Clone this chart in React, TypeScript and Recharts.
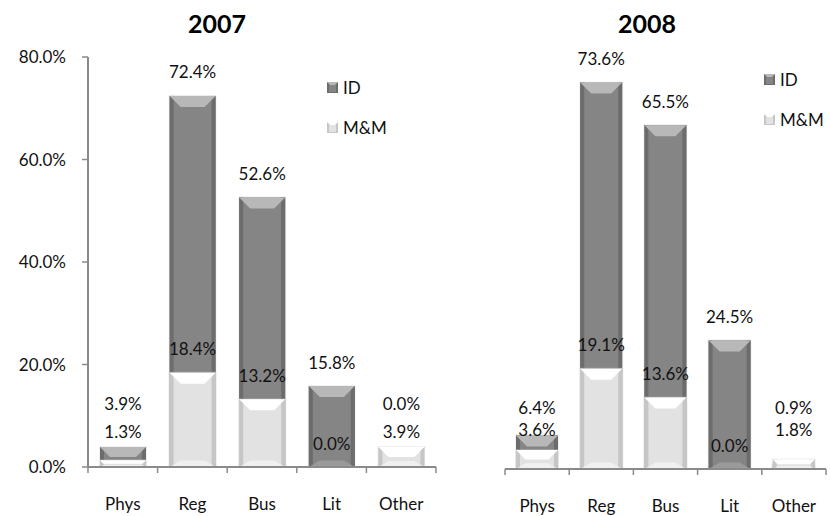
import React from 'react'
import { BarChart, Bar, XAxis, YAxis } from 'recharts'

const categories = ['Phys', 'Reg', 'Bus', 'Lit', 'Other']
const id2007 = [3.9, 72.4, 52.6, 15.8, 0.0]
const mm2007 = [1.3, 18.4, 13.2, 0.0, 3.9]
const id2008 = [6.4, 73.6, 65.5, 24.5, 0.9]
const mm2008 = [3.6, 19.1, 13.6, 0.0, 1.8]
const yTicks = [0, 20, 40, 60, 80]
const seriesNames = ['ID', 'M&M']

const FONT = 'Lato, "Open Sans", sans-serif'
const FS = 17
const AXIS = '#8a8a8a'

const ID_COLORS = { main: '#858585', top: '#b8b8b8', side: '#6c6c6c', bottom: '#9a9a9a' }
const MM_COLORS = { main: '#e2e2e2', top: '#ffffff', side: '#c6c6c6', bottom: '#f0f0f0' }

const buildRows = (ids: number[], mms: number[]) =>
  categories.map((name, i) => ({ name, ID: ids[i], MM: mms[i] }))

// bevelled bar like the old Excel "3-D" bar preset
const bevelShape = (c: typeof ID_COLORS) => (props: any) => {
  const { x, y, width, height } = props
  if (!height || height <= 0) return <g />
  const d = Math.min(11, height / 2, width / 2)
  const s = Math.min(4, width / 4)
  return (
    <g>
      <rect x={x - 1} y={y - 1} width={width + 2} height={height + 1} fill="#d8d8d8" opacity={0.35} />
      <rect x={x} y={y} width={width} height={height} fill={c.main} />
      <rect x={x} y={y} width={s} height={height} fill={c.side} />
      <rect x={x + width - s} y={y} width={s} height={height} fill={c.side} />
      <polygon
        points={`${x},${y + height} ${x + width},${y + height} ${x + width - d},${y + height - d * 0.6} ${x + d},${y + height - d * 0.6}`}
        fill={c.bottom}
      />
      <polygon
        points={`${x},${y} ${x + width},${y} ${x + width - d},${y + d} ${x + d},${y + d}`}
        fill={c.top}
      />
    </g>
  )
}

const LegendBox = ({ left, top }: { left: number; top: number }) => (
  <div style={{ position: 'absolute', left, top, fontFamily: FONT, fontSize: FS, color: '#111' }}>
    {seriesNames.map((name, i) => {
      const c = i === 0 ? ID_COLORS : MM_COLORS
      return (
        <div key={name} style={{ display: 'flex', alignItems: 'center', height: 20, marginBottom: i === 0 ? 20 : 0 }}>
          <svg width={11} height={11} style={{ marginRight: 5 }}>
            <rect x={0} y={0} width={11} height={11} fill={c.side} />
            <polygon points="0,0 11,0 8,3 3,3" fill={c.top} />
            <rect x={2} y={3} width={7} height={7} fill={c.main} />
          </svg>
          <span>{name}</span>
        </div>
      )
    })}
  </div>
)

type PanelProps = {
  title: string
  ids: number[]
  mms: number[]
  left: number
  width: number
  margin: { top: number; right: number; bottom: number; left: number }
  showY: boolean
  barSize: number
  idFloor: number
  mmFloor: number
  legendPos: { left: number; top: number }
  titleX: number
}

const Panel = ({ title, ids, mms, left, width, margin, showY, barSize, idFloor, mmFloor, legendPos, titleX }: PanelProps) => {
  const rows = buildRows(ids, mms)
  const yAxisW = showY ? 88 - margin.left : 0
  const plotW = width - margin.left - margin.right - yAxisW
  const band = plotW / categories.length
  const fmt = (v: number) => `${v.toFixed(1)}%`

  const idLabel = (p: any) => {
    const base = p.y + p.height
    const ty = Math.min(p.y - 24, base - idFloor)
    return (
      <text x={p.x + p.width / 2} y={ty} textAnchor="middle" dominantBaseline="central" fontFamily={FONT} fontSize={FS} fill="#111">
        {fmt(p.value)}
      </text>
    )
  }
  const mmLabel = (p: any) => {
    const base = p.y + p.height
    // when the ID bar is short its label is parked higher, so this one sits in a fixed row
    const idPx = (ids[p.index] / 80) * (base - margin.top)
    const idClamped = base - idPx - 24 > base - idFloor
    const ty = idClamped ? base - mmFloor : p.y - 24
    return (
      <text x={p.x + p.width / 2} y={ty} textAnchor="middle" dominantBaseline="central" fontFamily={FONT} fontSize={FS} fill="#111">
        {fmt(p.value)}
      </text>
    )
  }

  const catTick = (p: any) => {
    const { x, y, payload, index } = p
    const half = band / 2
    return (
      <g>
        <line x1={x - half} x2={x - half} y1={y - 8} y2={y - 2} stroke={AXIS} strokeWidth={1.5} />
        {index === categories.length - 1 && (
          <line x1={x + half} x2={x + half} y1={y - 8} y2={y - 2} stroke={AXIS} strokeWidth={1.5} />
        )}
        <text x={x} y={y + 35} textAnchor="middle" fontFamily={FONT} fontSize={FS} fill="#111">
          {payload.value}
        </text>
      </g>
    )
  }

  return (
    <div style={{ position: 'absolute', left, top: 0, width, height: 516 }}>
      <div
        style={{
          position: 'absolute',
          left: titleX - left - 60,
          width: 120,
          top: 8,
          textAlign: 'center',
          fontFamily: FONT,
          fontWeight: 700,
          fontSize: 25,
          color: '#000',
        }}
      >
        {title}
      </div>
      <BarChart width={width} height={516} data={rows} margin={margin} barSize={barSize}>
        <XAxis
          xAxisId="id"
          dataKey="name"
          axisLine={{ stroke: AXIS, strokeWidth: 2 }}
          tickLine={false}
          tick={catTick}
          height={30}
          interval={0}
        />
        <XAxis xAxisId="mm" dataKey="name" hide />
        <YAxis
          hide={!showY}
          width={yAxisW}
          domain={[0, 80]}
          ticks={yTicks}
          tickFormatter={fmt}
          axisLine={{ stroke: AXIS, strokeWidth: 2 }}
          tickLine={{ stroke: AXIS, strokeWidth: 1.5 }}
          tickSize={6}
          tickMargin={16}
          tick={{ fontFamily: FONT, fontSize: FS, fill: '#111' }}
          allowDataOverflow
        />
        <Bar xAxisId="id" dataKey="ID" name="ID" shape={bevelShape(ID_COLORS)} label={idLabel} isAnimationActive={false} />
        <Bar xAxisId="mm" dataKey="MM" name="M&M" shape={bevelShape(MM_COLORS)} label={mmLabel} isAnimationActive={false} />
      </BarChart>
      <LegendBox left={legendPos.left - left} top={legendPos.top} />
    </div>
  )
}

export default function App() {
  return (
    <div style={{ position: 'absolute', left: 0, top: 0, width: 830, height: 516, background: '#fff' }}>
      <Panel
        title="2007"
        ids={id2007}
        mms={mm2007}
        left={0}
        width={440}
        margin={{ top: 57, right: 4, bottom: 19, left: 0 }}
        showY
        barSize={46}
        idFloor={64}
        mmFloor={36}
        legendPos={{ left: 327, top: 77 }}
        titleX={217}
      />
      <Panel
        title="2008"
        ids={id2008}
        mms={mm2008}
        left={420}
        width={410}
        margin={{ top: 49, right: 4, bottom: 17, left: 85 }}
        showY={false}
        barSize={42}
        idFloor={62}
        mmFloor={40}
        legendPos={{ left: 764, top: 69 }}
        titleX={647}
      />
    </div>
  )
}
